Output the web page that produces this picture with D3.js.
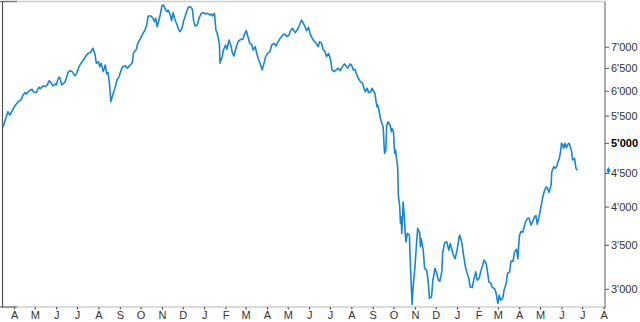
<!DOCTYPE html>
<html>
<head>
<meta charset="utf-8">
<script src="https://cdn.jsdelivr.net/npm/d3@7"></script>
<style>
html,body{margin:0;padding:0;background:#fff;}
svg{display:block;}
text{font-family:"Liberation Sans",Arial,sans-serif;}
</style>
</head>
<body>
<svg id="chart" width="640" height="322"></svg>
<script>
const dates = [
"2007-03-16","2007-03-20","2007-03-23","2007-03-26","2007-03-30","2007-04-02","2007-04-07","2007-04-11","2007-04-14","2007-04-17",
"2007-04-19","2007-04-23","2007-04-27","2007-04-29","2007-05-03","2007-05-07","2007-05-09","2007-05-13","2007-05-16","2007-05-19",
"2007-05-22","2007-05-25","2007-05-27","2007-05-31","2007-06-01","2007-06-04","2007-06-06","2007-06-09","2007-06-11","2007-06-14",
"2007-06-18","2007-06-21","2007-06-24","2007-06-28","2007-07-01","2007-07-04","2007-07-07","2007-07-11","2007-07-14","2007-07-17",
"2007-07-20","2007-07-22","2007-07-24","2007-07-27","2007-07-29","2007-08-01","2007-08-03","2007-08-05","2007-08-08","2007-08-11",
"2007-08-13","2007-08-15","2007-08-17","2007-08-19","2007-08-21","2007-08-25","2007-08-28","2007-08-31","2007-09-03","2007-09-05",
"2007-09-09","2007-09-12","2007-09-15","2007-09-19","2007-09-21","2007-09-25","2007-09-27","2007-10-01","2007-10-05","2007-10-07",
"2007-10-10","2007-10-12","2007-10-16","2007-10-19","2007-10-21","2007-10-23","2007-10-25","2007-10-27","2007-10-30","2007-11-01",
"2007-11-03","2007-11-06","2007-11-08","2007-11-10","2007-11-13","2007-11-15","2007-11-17","2007-11-20","2007-11-22","2007-11-25",
"2007-11-27","2007-11-30","2007-12-02","2007-12-06","2007-12-09","2007-12-12","2007-12-15","2007-12-17","2007-12-19","2007-12-22",
"2007-12-25","2007-12-28","2007-12-31","2008-01-03","2008-01-06","2008-01-09","2008-01-11","2008-01-13","2008-01-16","2008-01-18",
"2008-01-20","2008-01-23","2008-01-24","2008-01-27","2008-01-29","2008-02-01","2008-02-03","2008-02-06","2008-02-09","2008-02-11",
"2008-02-13","2008-02-16","2008-02-19","2008-02-23","2008-02-26","2008-02-29","2008-03-02","2008-03-05","2008-03-07","2008-03-10",
"2008-03-12","2008-03-15","2008-03-17","2008-03-20","2008-03-22","2008-03-25","2008-03-27","2008-03-30","2008-04-02","2008-04-05",
"2008-04-08","2008-04-11","2008-04-14","2008-04-17","2008-04-20","2008-04-24","2008-04-27","2008-04-30","2008-05-03","2008-05-05",
"2008-05-08","2008-05-10","2008-05-12","2008-05-16","2008-05-19","2008-05-21","2008-05-23","2008-05-26","2008-05-28","2008-05-31",
"2008-06-02","2008-06-04","2008-06-07","2008-06-11","2008-06-14","2008-06-16","2008-06-19","2008-06-21","2008-06-24","2008-06-26",
"2008-06-29","2008-07-02","2008-07-04","2008-07-07","2008-07-10","2008-07-13","2008-07-16","2008-07-19","2008-07-22","2008-07-25",
"2008-07-27","2008-07-30","2008-08-01","2008-08-04","2008-08-06","2008-08-09","2008-08-11","2008-08-14","2008-08-17","2008-08-21",
"2008-08-24","2008-08-26","2008-08-29","2008-08-31","2008-09-04","2008-09-07","2008-09-08","2008-09-10","2008-09-12","2008-09-15",
"2008-09-16","2008-09-18","2008-09-20","2008-09-21","2008-09-23","2008-09-26","2008-09-28","2008-09-29","2008-10-01","2008-10-02",
"2008-10-03","2008-10-04","2008-10-05","2008-10-07","2008-10-08","2008-10-10","2008-10-11","2008-10-12","2008-10-13","2008-10-14",
"2008-10-15","2008-10-17","2008-10-18","2008-10-19","2008-10-21","2008-10-24","2008-10-25","2008-10-26","2008-10-27","2008-10-28",
"2008-10-29","2008-11-01","2008-11-03","2008-11-05","2008-11-08","2008-11-09","2008-11-10","2008-11-13","2008-11-15","2008-11-18",
"2008-11-20","2008-11-22","2008-11-25","2008-11-27","2008-11-30","2008-12-02","2008-12-05","2008-12-07","2008-12-10","2008-12-11",
"2008-12-14","2008-12-17","2008-12-20","2008-12-22","2008-12-26","2008-12-29","2009-01-01","2009-01-04","2009-01-05","2009-01-08",
"2009-01-10","2009-01-13","2009-01-15","2009-01-18","2009-01-20","2009-01-23","2009-01-25","2009-01-28","2009-01-30","2009-02-02",
"2009-02-04","2009-02-07","2009-02-09","2009-02-12","2009-02-14","2009-02-16","2009-02-19","2009-02-21","2009-02-24","2009-02-26",
"2009-03-01","2009-03-03","2009-03-05","2009-03-08","2009-03-10","2009-03-13","2009-03-15","2009-03-18","2009-03-20","2009-03-23",
"2009-03-25","2009-03-28","2009-03-30","2009-04-01","2009-04-03","2009-04-06","2009-04-08","2009-04-10","2009-04-13","2009-04-15",
"2009-04-18","2009-04-20","2009-04-23","2009-04-25","2009-04-27","2009-04-30","2009-05-02","2009-05-05","2009-05-07","2009-05-10",
"2009-05-12","2009-05-14","2009-05-17","2009-05-18","2009-05-21","2009-05-23","2009-05-25","2009-05-27","2009-05-29","2009-05-31",
"2009-06-01","2009-06-03","2009-06-04","2009-06-06","2009-06-08","2009-06-10","2009-06-12","2009-06-15","2009-06-16","2009-06-17",
"2009-06-20","2009-06-22","2009-06-24"
];
const values = [
5280,5450,5575,5510,5610,5690,5775,5810,5912,5960,
5933,6000,6031,5981,5960,6074,6044,6102,6088,6124,
6216,6160,6102,6145,6124,6269,6291,6124,6145,6194,
6393,6437,6415,6320,6393,6529,6606,6699,6777,6840,
6855,6903,6962,6825,6606,6643,6529,6606,6415,6568,
6364,6393,6160,5775,5877,6052,6231,6305,6453,6529,
6545,6492,6545,6620,6855,6937,7084,7209,7352,7403,
7553,7795,7795,7732,7640,7732,7508,7640,7869,8073,
8101,7979,7912,7959,7822,7666,7885,7685,7598,7439,
7378,7466,7640,7869,8036,8053,7979,7640,7527,7553,
7759,7869,7885,7849,7869,7822,7849,7795,7869,7421,
7337,7084,6606,6761,6920,7042,6937,7166,7017,6840,
6777,6962,7124,7184,7184,7337,7403,7209,7084,7042,
6920,7000,6840,6682,6606,6453,6568,6761,6840,6880,
7042,7084,7017,7124,7209,7293,7319,7251,7293,7403,
7466,7403,7352,7466,7598,7685,7614,7508,7403,7492,
7352,7251,7166,7084,7000,7124,7084,6937,6880,6761,
6840,6682,6453,6415,6453,6492,6437,6529,6591,6529,
6492,6591,6568,6453,6469,6342,6269,6194,6167,5981,
6052,5965,5981,6052,5947,5675,5709,5609,5449,5322,
5290,4820,4875,5290,5384,5322,5198,5261,5198,4930,
4820,4875,4763,4600,4165,3998,3772,3860,3642,3838,
4064,3815,3642,3536,3642,3620,3357,3166,2986,2840,
2986,3240,3476,3706,3642,3476,3577,3435,3222,3202,
3092,2900,2917,3092,3222,3180,3092,3081,3188,3392,
3526,3536,3435,3516,3392,3333,3435,3600,3620,3516,
3392,3240,3183,3111,3018,3013,3092,3183,3092,3111,
3183,3259,3317,3279,3183,3073,3055,3014,3004,2969,
2850,2934,2883,2900,2986,3056,3166,3183,3305,3305,
3411,3447,3333,3600,3662,3658,3727,3792,3838,3842,
3750,3789,3856,3876,3762,3883,3979,4136,4213,4287,
4263,4204,4312,4519,4600,4573,4600,4680,4736,4875,
4991,4962,4904,4991,4915,4974,4991,4892,4820,4708,
4736,4573,4540
];
const yTickValues = [3000,3500,4000,4500,5000,5500,6000,6500,7000];
const yTickLabels = ["3'000","3'500","4'000","4'500","5'000","5'500","6'000","6'500","7'000"];
const monthLabels = ["A","M","J","J","A","S","O","N","D","J","F","M","A","M","J","J","A","S","O","N","D","J","F","M","A","M","J","J","A"];
const boldTick = 5000;

const parse = d3.timeParse("%Y-%m-%d");
const data = dates.map((d,i)=>({date:parse(d), value:values[i]}));

const svg = d3.select("#chart");
const L = 3, R = 605, T = 1.5, B = 307;

const x = d3.scaleTime().domain([parse("2007-03-16"), parse("2009-08-03")]).range([L, R]);
const y = d3.scaleLog().domain([3000, 7000]).range([288.8, 46.7]);

// frame
svg.append("line").attr("x1",L).attr("x2",R).attr("y1",T).attr("y2",T).attr("stroke","#cfcfcf").attr("stroke-width",1.3);
svg.append("line").attr("x1",0).attr("x2",17).attr("y1",T).attr("y2",T).attr("stroke","#777").attr("stroke-width",1.3);
svg.append("line").attr("x1",L).attr("x2",R+1).attr("y1",B).attr("y2",B).attr("stroke","#cfcfcf").attr("stroke-width",1.3);
svg.append("line").attr("x1",0).attr("x2",17).attr("y1",B).attr("y2",B).attr("stroke","#777").attr("stroke-width",1.3);
svg.append("line").attr("x1",2.5).attr("x2",2.5).attr("y1",T-0.5).attr("y2",B+0.5).attr("stroke","#555").attr("stroke-width",1.2);

// right axis
const yAxis = d3.axisRight(y).tickValues(yTickValues).tickSize(4).tickPadding(2)
  .tickFormat((d)=>yTickLabels[yTickValues.indexOf(d)]);
const ya = svg.append("g").attr("transform",`translate(${R},0)`).call(yAxis);
ya.select(".domain").attr("d",`M0,${T}V${B+0.5}`).attr("stroke","#777").attr("stroke-width",1.2);
ya.selectAll(".tick line").attr("stroke","#555");
ya.selectAll(".tick text").attr("fill","#333").attr("font-size","11px")
  .attr("font-family","Liberation Sans, Arial, sans-serif")
  .attr("font-weight",d=>d===boldTick?"bold":"normal")
  .attr("fill",d=>d===boldTick?"#000":"#333");

// bottom axis
const months = d3.timeMonth.range(parse("2007-04-01"), parse("2009-08-02"));
const xAxis = d3.axisBottom(x).tickValues(months).tickSize(2.5).tickPadding(1.5)
  .tickFormat((d,i)=>monthLabels[i]);
const xa = svg.append("g").attr("transform",`translate(0,${B})`).call(xAxis);
xa.select(".domain").remove();
xa.selectAll(".tick line").attr("stroke","#444");
xa.selectAll(".tick text").attr("fill","#333").attr("font-size","11px")
  .attr("font-family","Liberation Sans, Arial, sans-serif");

// line
const line = d3.line().x(d=>x(d.date)).y(d=>y(d.value));
svg.append("path").datum(data).attr("d",line).attr("fill","none")
  .attr("stroke","#1a86cf").attr("stroke-width",1.6).attr("stroke-linejoin","round");

// last value marker
const last = data[data.length-1];
const my = y(last.value), mx = R + 3.5;
svg.append("path").attr("d",d3.symbol().type(d3.symbolDiamond).size(14)())
  .attr("transform",`translate(${mx},${my})`).attr("fill","#1a86cf");
</script>
</body>
</html>
